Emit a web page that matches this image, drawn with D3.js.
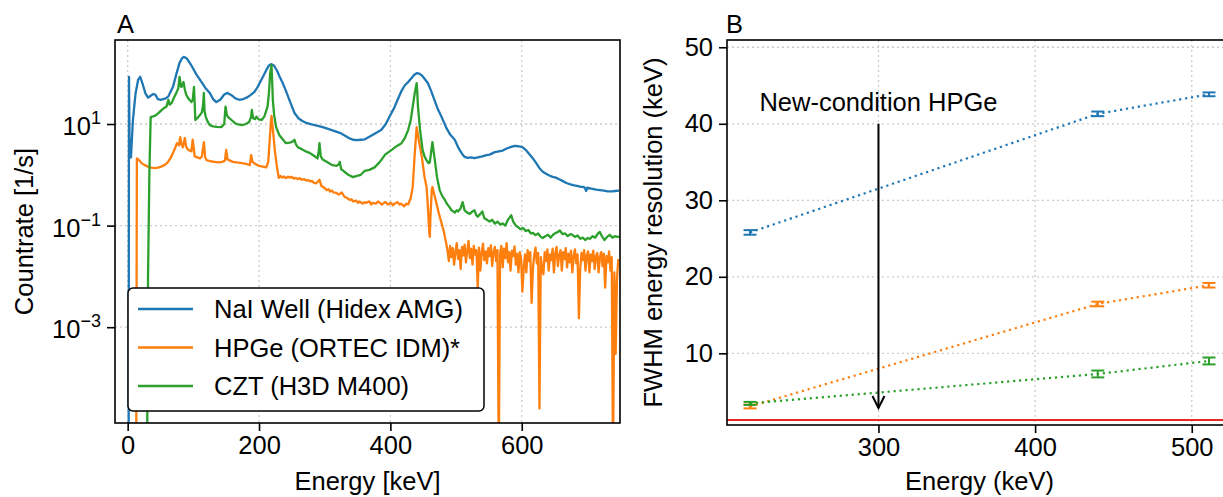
<!DOCTYPE html>
<meta charset="utf-8">
<title>Spectra and FWHM energy resolution</title>
<style>
body { margin: 0; background: #fff; }
svg text { font-family: "Liberation Sans", Arial, sans-serif; fill: #000; }
.grid line { stroke: #cccccc; stroke-width: 1.3; stroke-dasharray: 2,3; }
.axis path { display: none; }
.axis line { stroke: #000; stroke-width: 1.6; }
.axis text { font-size: 25.5px; }
.frame { fill: none; stroke: #000; stroke-width: 1.6; }
.spec { fill: none; stroke-width: 2.3; stroke-linejoin: round; }
</style>
<body>
<svg id="chart" width="1223" height="497"></svg>
<script src="https://cdn.jsdelivr.net/npm/d3@7"></script>
<script>

// ---- data: panel A spectra, [energy keV, countrate 1/s]; 0 = empty bin ----
var naiWell = [[1.5,0],[2,85],[3,2.5],[5,2.2],[8,12],[12,40],[16,75],[19,85],[23,60],[27,40],[31,33],
  [35,36],[39,39],[42,38],[46,31],[50,30],[54,31],[58,32],[62,35],[66,45],[69,54],[74,95],[79,160],
  [83,200],[86,210],[90,195],[96,150],[105,93],[112,68],[118,52],[125,41],[130,31],[135,27],[141,30],
  [147,38],[152,41],[158,37],[164,32],[170,30],[176,31],[181,33],[187,37],[193,43],[198,54],[202,68],
  [206,85],[211,115],[215,142],[219,151],[223,140],[228,108],[232,82],[236,64],[241,45],[247,28],
  [254,16.5],[260,13],[266,11.5],[272,10.5],[280,9.8],[288,9.3],[297,8.7],[305,8.0],[314,7.3],
  [323,6.7],[331,5.9],[338,5.2],[343,4.9],[349,4.8],[355,4.9],[361,5.0],[368,5.6],[376,6.4],
  [386,7.6],[393,10],[400,15],[406,21],[411,30],[417,45],[422,58],[427,67],[432,80],[436,92],
  [440,100],[444,98],[448,90],[452,78],[457,64],[462,45],[467,30],[472,20],[478,13.7],[485,8.5],
  [491,6.2],[498,4.9],[504,3.3],[509,2.6],[513,2.25],[518,2.15],[523,2.2],[528,2.12],[533,2.2],
  [540,2.3],[546,2.45],[551,2.5],[559,2.8],[565,2.9],[571,3.0],[577,3.3],[583,3.5],[589,3.7],
  [595,3.65],[601,3.5],[606,3.1],[611,2.6],[617,2.1],[622,1.7],[627,1.35],[632,1.15],[637,1.05],
  [642,0.97],[647,0.91],[652,0.88],[657,0.82],[662,0.76],[668,0.69],[674,0.65],[680,0.62],
  [686,0.6],[690,0.58],[693,0.58],[696,0.56],[698,0.48],[700,0.56],[704,0.54],[708,0.53],
  [713,0.51],[719,0.5],[725,0.49],[731,0.47],[737,0.47],[742,0.48],[748,0.49]];

var hpgeHead = [[13,0],[14,2.1],[18,1.9],[21,1.7],[26,1.55],[31,1.45],[36,1.38],[41,1.35],[46,1.38],
  [51,1.45],[56,1.55],[61,1.75],[65,2.1],[69,2.7],[72,3.3],[75,4.2],[78,3.8],[80,5.5],[82,3.9],
  [84,3.5],[86,4.6],[87,5.3],[89,3.6],[92,3.1],[95,3.0],[97,2.9],[99,4.9],[101,3.0],[102,2.3],
  [106,2.2],[110,2.1],[113,2.3],[116,4.4],[118,2.2],[120,1.95],[126,1.85],[132,1.8],[138,1.75],
  [144,1.8],[148,1.9],[150,3.1],[152,2.0],[156,1.9],[160,1.8],[166,1.75],[174,1.7],[180,1.65],
  [186,1.55],[188,2.45],[190,1.8],[194,1.65],[200,1.5],[206,1.45],[211,1.4],[214,1.8],[216,4.2],
  [218,11],[219,14.4],[221,8],[224,3.1],[227,1.5],[230,0.87],[233,0.95],[235,0.88],[238,0.93],
  [240,0.86],[244,0.92],[247,0.88],[250,0.91],[253,0.84],[256,0.87],[259,0.82],[262,0.86],
  [265,0.8],[269,0.82],[272,0.77],[275,0.79],[278,0.74],[281,0.76],[283,0.7],[287,0.68],
  [290,0.75],[292,0.8],[295,0.6],[299,0.56],[303,0.5],[306,0.52],[308,0.47],[311,0.49],[313,0.45],
  [318,0.44],[321,0.41],[323,0.42],[326,0.45],[330,0.37],[334,0.35],[338,0.32],[341,0.33],
  [343,0.3],[348,0.31],[351,0.28],[353,0.3],[358,0.27],[361,0.29],[363,0.28],[368,0.3],[371,0.26],
  [373,0.28],[378,0.27],[381,0.3],[384,0.28],[387,0.26],[390,0.28],[393,0.29],[396,0.26],
  [401,0.28],[404,0.25],[406,0.27],[411,0.29],[414,0.26],[416,0.27],[421,0.24],[424,0.27],
  [427,0.26],[431,0.35],[434,0.58],[437,2.5],[440,8.7],[443,5],[448,2.2],[452,0.9],[455,0.58],
  [457,0.25],[459,0.08],[460,0.06],[461,0.15],[463,0.5],[464,0.58],[466,0.45],[470,0.28],
  [474,0.17],[478,0.11],[481,0.08],[483,0.06]];

// HPGe high-energy tail, 2 keV bins from 485 keV
var hpgeTailStart = 485, hpgeTailStep = 2;
var hpgeTail = [0.045,0.032,0.02,0.04,0.024,0.036,0.017,0.03,0.045,0.022,0.033,0.014,0.038,0.026,
  0.042,0.019,0.031,0.05,0.023,0.035,0.017,0.04,0.027,0.033,0.006,0.037,0.013,0.029,0.044,0.021,
  0.031,0.018,0.036,0.025,0.041,0.016,0.03,0.038,0.02,0.033,0,0.028,0.04,0.015,0.035,0.023,
  0.045,0.019,0.03,0.013,0.032,0.025,0.039,0.017,0.028,0.012,0.03,0.022,0.005,0.015,0.027,0.012,
  0.033,0.02,0.03,0.003,0.014,0.026,0.037,0.018,0.029,0.000025,0.024,0.014,0.011,0.03,0.02,
  0.034,0.013,0.027,0.021,0.035,0.012,0.028,0.038,0.016,0.026,0.033,0.013,0.03,0.022,0.036,
  0.015,0.028,0.019,0.032,0.012,0.025,0.034,0.018,0.027,0.0015,0.014,0.029,0.021,0.033,0.013,
  0.026,0.031,0.012,0.027,0.02,0.032,0.014,0.025,0.029,0.012,0.024,0.03,0.016,0.028,0.006,0.025,
  0.019,0.031,0.013,0.024,0,0.012,0.0003,0.009,0.022];

var cztH3d = [[29.5,0],[31,0.01],[33,1],[35,13.7],[41,14.4],[46,16],[52,19],[56,21],[59,22],[62,30],
  [64,24],[67,26],[70,32],[74,41],[77,50],[79,85],[81,55],[82,54],[85,67],[87,48],[89,38],[91,34],
  [94,30],[97,27],[99,30],[101,54],[103,12],[106,13],[110,15],[113,17],[115,25],[116,41],[117,18],
  [119,13.7],[122,11],[125,9.5],[130,9.0],[136,8.8],[143,8.7],[147,10],[149,22],[151,15],
  [153,13.7],[158,12],[163,10.5],[168,9.8],[174,9.5],[180,10],[185,11],[188,14],[189,19],[191,13],
  [194,12.5],[196,14],[199,12.5],[204,12],[208,14],[213,22],[215,40],[217,100],[219,145],[220,70],
  [221,30],[223,15],[226,8.7],[231,6],[236,5],[241,4.2],[247,4.3],[251,4.5],[254,4.9],[256,4.0],
  [259,3.5],[265,3.2],[271,2.9],[277,2.7],[283,2.4],[289,2.1],[291,3],[292,4.2],[294,2.3],[297,2.0],
  [303,1.8],[308,1.65],[312,1.55],[318,1.5],[321,1.6],[323,1.8],[325,1.3],[330,1.15],[336,1.0],
  [343,0.9],[349,0.95],[355,1.0],[361,1.2],[368,1.25],[376,1.4],[384,1.8],[392,2.5],[402,3.1],
  [410,3.7],[417,4.2],[422,5.3],[427,7.6],[431,12],[434,22],[437,40],[440,64],[441,40],[442,22],
  [445,8],[449,3.1],[452,2.3],[455,1.95],[458,1.7],[460,1.75],[462,2.8],[464,4.4],[466,2.8],
  [468,1.8],[471,0.9],[475,0.5],[479,0.38],[483,0.32],[486,0.27],[488,0.25],[491,0.22],[493,0.2],
  [496,0.19],[498,0.18],[501,0.2],[503,0.19],[507,0.22],[510,0.29],[513,0.2],[517,0.18],[521,0.17],
  [525,0.19],[528,0.2],[531,0.16],[533,0.15],[537,0.17],[540,0.19],[543,0.14],[547,0.13],[551,0.12],
  [555,0.13],[559,0.11],[563,0.12],[567,0.105],[571,0.11],[575,0.1],[579,0.13],[584,0.16],
  [587,0.12],[591,0.1],[594,0.094],[598,0.085],[602,0.09],[606,0.078],[610,0.082],[614,0.07],
  [617,0.072],[621,0.065],[625,0.07],[629,0.06],[632,0.057],[636,0.062],[640,0.066],[644,0.058],
  [648,0.067],[652,0.072],[655,0.075],[658,0.08],[662,0.068],[666,0.07],[670,0.062],[674,0.068],
  [677,0.066],[681,0.06],[685,0.064],[689,0.055],[693,0.058],[697,0.052],[700,0.057],[704,0.055],
  [708,0.062],[712,0.058],[716,0.07],[719,0.075],[722,0.062],[726,0.052],[730,0.06],[734,0.066],
  [738,0.058],[742,0.062],[746,0.06],[749,0.061]];

var specNames = ["NaI Well (Hidex AMG)", "HPGe (ORTEC IDM)*", "CZT (H3D M400)"];
var colors = ["#1f77b4", "#ff7f0e", "#2ca02c"];

// ---- data: panel B, FWHM (keV) at 218, 440, 511 keV ----
var peakEnergies = [218, 440, 511];
var fwhmNai  = [25.8, 41.3, 43.85];
var fwhmHpge = [3.05, 16.45, 18.9];
var fwhmCzt  = [3.45, 7.3, 9.0];
var errNai   = [0.3, 0.3, 0.25];
var errHpge  = [0.25, 0.3, 0.3];
var errCzt   = [0.2, 0.45, 0.45];
var hpgeNewFwhm = 1.28;
var arrowFrom = 40, arrowTo = 2.85, arrowText = "New-condition HPGe", arrowTextY = 41.7;

var xTicksA = [0, 200, 400, 600];
var yTicksA = [1e1, 1e-1, 1e-3];
var xTicksB = [300, 400, 500];
var yTicksB = [10, 20, 30, 40, 50];

var hpge = hpgeHead.concat(hpgeTail.map(function(c, i) { return [hpgeTailStart + i * hpgeTailStep, c]; }));
var spectra = [naiWell, hpge, cztH3d];

var svg = d3.select("#chart");

// ================= panel A =================
var A = {left: 115, right: 620, top: 40, bottom: 423};
var xA = d3.scaleLinear().domain([-19.3, 749.6]).range([A.left, A.right]);
var yA = d3.scaleLog().domain([Math.pow(10, -4.886), Math.pow(10, 2.654)]).range([A.bottom, A.top]);

svg.append("clipPath").attr("id", "clipA").append("rect")
  .attr("x", A.left).attr("y", A.top).attr("width", A.right - A.left).attr("height", A.bottom - A.top);

var gA = svg.append("g");
gA.append("g").attr("class", "grid").selectAll("line").data(xTicksA).enter().append("line")
  .attr("x1", xA).attr("x2", xA).attr("y1", A.top).attr("y2", A.bottom);
gA.append("g").attr("class", "grid").selectAll("line").data(yTicksA).enter().append("line")
  .attr("y1", yA).attr("y2", yA).attr("x1", A.left).attr("x2", A.right);

var lineA = d3.line()
  .x(function(d) { return xA(d[0]); })
  .y(function(d) { return d[1] > 0 ? yA(d[1]) : A.bottom + 40; });

gA.append("g").attr("clip-path", "url(#clipA)").selectAll("path").data(spectra).enter().append("path")
  .attr("class", "spec")
  .attr("stroke", function(d, i) { return colors[i]; })
  .attr("d", lineA);

gA.append("g").attr("class", "axis").attr("transform", "translate(0," + A.bottom + ")")
  .call(d3.axisBottom(xA).tickValues(xTicksA).tickSize(8).tickPadding(5).tickFormat(d3.format("d")));

var yAxisA = gA.append("g").attr("class", "axis").attr("transform", "translate(" + A.left + ",0)")
  .call(d3.axisLeft(yA).tickValues(yTicksA).tickSize(8).tickPadding(6));
yAxisA.selectAll(".tick text").each(function(d) {
  var t = d3.select(this).text(null).attr("dy", "0.42em");
  var e = Math.round(Math.log10(d));
  t.append("tspan").text("10");
  t.append("tspan").attr("dy", "-0.62em").style("font-size", "18px").text(e < 0 ? "\u2212" + (-e) : e);
});

gA.append("rect").attr("class", "frame")
  .attr("x", A.left).attr("y", A.top).attr("width", A.right - A.left).attr("height", A.bottom - A.top);

// legend
var leg = gA.append("g").attr("transform", "translate(128,288)");
leg.append("rect").attr("width", 356).attr("height", 123).attr("rx", 5)
  .attr("fill", "#fff").attr("stroke", "#000").attr("stroke-width", 1.5);
specNames.forEach(function(name, i) {
  var yy = 21 + i * 38.5;
  leg.append("line").attr("x1", 10).attr("x2", 65).attr("y1", yy).attr("y2", yy)
    .attr("stroke", colors[i]).attr("stroke-width", 2.3);
  leg.append("text").attr("x", 86).attr("y", yy + 9.2).style("font-size", "25.5px").text(name);
});

gA.append("text").attr("x", 117).attr("y", 33).style("font-size", "25.5px").text("A");
gA.append("text").attr("x", (A.left + A.right) / 2).attr("y", 490).attr("text-anchor", "middle")
  .style("font-size", "25.5px").text("Energy [keV]");
gA.append("text").attr("transform", "translate(33," + (A.top + A.bottom) / 2 + ") rotate(-90)")
  .attr("text-anchor", "middle").style("font-size", "25.5px").text("Countrate [1/s]");

// ================= panel B =================
var B = {left: 727, right: 1232, top: 40, bottom: 425};
var xB = d3.scaleLinear().domain([203.3, 525.7]).range([B.left, B.right]);
var yB = d3.scaleLinear().domain([0.63, 50.95]).range([B.bottom, B.top]);

var gB = svg.append("g");
gB.append("g").attr("class", "grid").selectAll("line").data(xTicksB).enter().append("line")
  .attr("x1", xB).attr("x2", xB).attr("y1", B.top).attr("y2", B.bottom);
gB.append("g").attr("class", "grid").selectAll("line").data(yTicksB).enter().append("line")
  .attr("y1", yB).attr("y2", yB).attr("x1", B.left).attr("x2", B.right);

gB.append("line").attr("x1", B.left).attr("x2", B.right)
  .attr("y1", yB(hpgeNewFwhm)).attr("y2", yB(hpgeNewFwhm))
  .attr("stroke", "#e8262a").attr("stroke-width", 2);

var fwhmSets = [[fwhmNai, errNai], [fwhmHpge, errHpge], [fwhmCzt, errCzt]];
var lineB = d3.line().x(function(d) { return xB(d.e); }).y(function(d) { return yB(d.v); });
fwhmSets.forEach(function(set, i) {
  var pts = peakEnergies.map(function(e, j) { return {e: e, v: set[0][j], err: set[1][j]}; });
  var g = gB.append("g").attr("stroke", colors[i]).attr("fill", "none");
  g.append("path").attr("d", lineB(pts)).attr("stroke-width", 2.2).attr("stroke-dasharray", "2.2,3.8");
  pts.forEach(function(p) {
    var cx = xB(p.e), y0 = yB(p.v - p.err), y1 = yB(p.v + p.err);
    g.append("line").attr("x1", cx).attr("x2", cx).attr("y1", y0).attr("y2", y1).attr("stroke-width", 2);
    g.append("line").attr("x1", cx - 6.5).attr("x2", cx + 6.5).attr("y1", y0).attr("y2", y0).attr("stroke-width", 2);
    g.append("line").attr("x1", cx - 6.5).attr("x2", cx + 6.5).attr("y1", y1).attr("y2", y1).attr("stroke-width", 2);
  });
});

// annotation arrow
var ax = xB(300), ay0 = yB(arrowFrom), ay1 = yB(arrowTo);
gB.append("line").attr("x1", ax).attr("x2", ax).attr("y1", ay0).attr("y2", ay1)
  .attr("stroke", "#000").attr("stroke-width", 2);
gB.append("path").attr("d", "M" + (ax - 6) + "," + (ay1 - 12) + "L" + ax + "," + ay1 + "L" + (ax + 6) + "," + (ay1 - 12))
  .attr("fill", "none").attr("stroke", "#000").attr("stroke-width", 2);
gB.append("text").attr("x", ax).attr("y", yB(arrowTextY)).attr("text-anchor", "middle")
  .style("font-size", "25.5px").text(arrowText);

gB.append("g").attr("class", "axis").attr("transform", "translate(0," + B.bottom + ")")
  .call(d3.axisBottom(xB).tickValues(xTicksB).tickSize(8).tickPadding(5));
gB.append("g").attr("class", "axis").attr("transform", "translate(" + B.left + ",0)")
  .call(d3.axisLeft(yB).tickValues(yTicksB).tickSize(8).tickPadding(6));

gB.append("rect").attr("class", "frame")
  .attr("x", B.left).attr("y", B.top).attr("width", B.right - B.left).attr("height", B.bottom - B.top);

gB.append("text").attr("x", 726).attr("y", 33).style("font-size", "25.5px").text("B");
gB.append("text").attr("x", (B.left + B.right) / 2).attr("y", 490).attr("text-anchor", "middle")
  .style("font-size", "25.5px").text("Energy (keV)");
gB.append("text").attr("transform", "translate(662," + (B.top + B.bottom) / 2 + ") rotate(-90)")
  .attr("text-anchor", "middle").style("font-size", "25.5px").text("FWHM energy resolution (keV)");
</script>
</body>
